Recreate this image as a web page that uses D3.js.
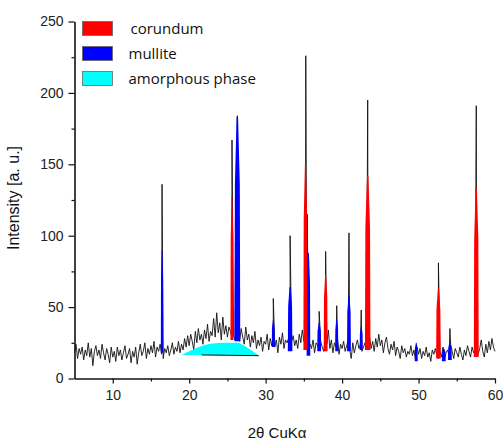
<!DOCTYPE html>
<html>
<head>
<meta charset="utf-8">
<script src="https://cdn.jsdelivr.net/npm/d3@7"></script>
<style>
  body { margin: 0; background: #fff; }
  .tick text { font-family: "Liberation Sans", Arial, sans-serif; font-size: 14px; fill: #222; }
</style>
</head>
<body>
<div id="chart"></div>
<script>
// set the dimensions and margins of the graph
var margin = {top: 21.5, right: 8, bottom: 62.5, left: 74.5},
    width = 503 - margin.left - margin.right,
    height = 441 - margin.top - margin.bottom;

// measured pattern, 2theta from 5 to 60 in 0.2 deg steps
const startAngle = 5, stepAngle = 0.2;
const background = [
  19, 24, 14, 21, 17,  22, 13, 20, 16, 25,  15, 21, 9, 19, 23,  16, 20, 14, 24, 18,  13, 21, 17, 11, 22,
  15, 19, 12, 22, 16,  20, 13, 18, 23, 14,  17, 21, 11, 19, 15,  22, 10, 18, 24, 16,  19, 25, 14, 21, 17,
  23, 18, 26, 15, 22,  19, 24, 17, 14, 21,  18, 23, 16, 20, 25,  17, 22, 19, 26, 18,  24, 20, 28, 22, 30,
  23, 31, 26, 20, 33,  25, 35, 27, 31, 24,  34, 28, 38, 26, 33,  30, 42, 29, 46, 32,  39, 27, 43, 31, 37,
  29, 36, 33, 28, 30,  27, 30, 34, 26, 35,  29, 24, 36, 27, 31,  22, 30, 25, 33, 21,  27, 23, 29, 19, 26,
  24, 31, 20, 28, 23,  30, 22, 27, 18, 29,  24, 32, 21, 27, 25,  28, 22, 26, 30, 23,  27, 21, 31, 25, 34,
  26, 29, 22, 19, 24,  21, 27, 18, 25, 23,  20, 26, 22, 19, 28,  24, 34, 21, 27, 18,  25, 22, 28, 17, 24,
  21, 26, 19, 23, 27,  20, 14, 25, 18, 23,  27, 21, 24, 19, 22,  25, 20, 23, 29, 21,  26, 19, 28, 22, 31,
  23, 27, 18, 25, 29,  21, 17, 24, 20, 26,  16, 22, 19, 14, 23,  18, 21, 15, 19, 17,  23, 16, 20, 13, 22,
  17, 21, 14, 19, 16,  22, 15, 18, 12, 20,  17, 21, 16, 14, 19,  15, 22, 13, 18, 20,  16, 24, 19, 14, 21,
  18, 15, 22, 17, 13,  20, 16, 23, 19, 15,  22, 18, 20, 24, 17,  21, 27, 19, 15, 24,  18, 26, 20, 28, 22,
  19
];

// sharp reflections on top of the background [2theta, intensity]
const spikes = [
  [16.45, 136], [25.6, 167], [26.1, 131], [26.3, 184], [31.0, 56], [33.2, 100],
  [35.25, 226], [35.45, 115], [37.0, 47], [37.85, 89], [39.3, 51], [40.9, 102],
  [42.5, 48], [43.35, 195], [52.6, 81], [54.1, 35], [57.55, 191]
];

// fitted phase peaks [2theta, top, base, half width]
const mulliteFits = [
  [16.45, 90, 18, 0.16], [26.3, 183, 26, 0.38], [31.0, 41, 22, 0.2], [33.2, 64, 19, 0.3],
  [35.6, 88, 16, 0.24], [37.0, 39, 19, 0.25], [39.3, 41, 19, 0.2], [40.9, 58, 19, 0.25],
  [42.5, 36, 20, 0.2], [49.7, 25, 12, 0.2], [53.3, 21, 12, 0.25], [54.1, 25, 13, 0.25]
];
const corundumFits = [
  [25.6, 128, 27, 0.2], [35.2, 150, 20, 0.26], [37.85, 73, 19, 0.25],
  [43.35, 142, 20, 0.36], [52.6, 63, 14, 0.3], [57.55, 133, 15, 0.32]
];

// amorphous hump outline
const amorphous = [
  [19.0, 16.5], [20.0, 19], [21.0, 21.5], [22.0, 23.5], [23.0, 24.5], [24.5, 25],
  [26.5, 25], [27.5, 22], [28.3, 19], [29.1, 16], [21.6, 16.5]
];
const amorphousBase = [[21.6, 16.5], [29.1, 16]];

const legendItems = ["corundum", "mullite", "amorphous phase"];
const legendColors = ["#ff0000", "#0000ff", "#00ffff"];

// append the svg object to the body of the page
var svg = d3.select("#chart")
  .append("svg")
    .attr("width", width + margin.left + margin.right)
    .attr("height", height + margin.top + margin.bottom)
  .append("g")
    .attr("transform", "translate(" + margin.left + "," + margin.top + ")");

const x = d3.scaleLinear().domain([5, 60]).range([0, width]);
const y = d3.scaleLinear().domain([0, 250]).range([height, 0]);

// trace = background points plus spikes, sorted by angle
var trace = background.map((v, i) => [startAngle + i * stepAngle, v]);
trace = trace.concat(spikes).sort((a, b) => a[0] - b[0]);

const line = d3.line().x(d => x(d[0])).y(d => y(d[1]));

svg.append("path")
  .datum(trace)
  .attr("fill", "none")
  .attr("stroke", "#111")
  .attr("stroke-width", 0.9)
  .attr("d", line);

// amorphous hump
svg.append("path")
  .datum(amorphous)
  .attr("fill", "#00ffff")
  .attr("d", d => line(d) + "Z");
svg.append("path")
  .datum(amorphousBase)
  .attr("fill", "none")
  .attr("stroke", "#111")
  .attr("stroke-width", 1)
  .attr("d", line);

// peak shape from centre, top, base, half width
function peakPath(d) {
  const c = d[0], top = d[1], base = d[2], w = d[3];
  const mid = base + 0.7 * (top - base);
  const pts = [[c - w, base], [c - 0.85 * w, mid], [c - 0.25 * w, top],
               [c + 0.25 * w, top], [c + 0.85 * w, mid], [c + w, base]];
  return line(pts) + "Z";
}

svg.selectAll(".mullite")
  .data(mulliteFits)
  .enter().append("path")
  .attr("class", "mullite")
  .attr("fill", "#0000ff")
  .attr("d", peakPath);

svg.selectAll(".corundum")
  .data(corundumFits)
  .enter().append("path")
  .attr("class", "corundum")
  .attr("fill", "#ff0000")
  .attr("d", peakPath);

// axes
const xAxis = svg.append("g")
  .attr("transform", `translate(0,${height})`)
  .call(d3.axisBottom(x).tickValues(d3.range(10, 61, 10)).tickSize(5).tickSizeOuter(0).tickPadding(7));
svg.append("g")
  .attr("transform", `translate(0,${height})`)
  .call(d3.axisBottom(x).tickValues(d3.range(15, 60, 10)).tickSize(3).tickSizeOuter(0).tickFormat(""))
  .select(".domain").remove();

const yAxis = svg.append("g")
  .call(d3.axisLeft(y).tickValues(d3.range(0, 251, 50)).tickSize(6).tickSizeOuter(0).tickPadding(5));
svg.append("g")
  .call(d3.axisLeft(y).tickValues(d3.range(25, 250, 50)).tickSize(3).tickSizeOuter(0).tickFormat(""))
  .select(".domain").remove();

svg.selectAll(".domain").attr("stroke", "#111").attr("stroke-width", 1.6);
svg.selectAll(".tick line").attr("stroke", "#111").attr("stroke-width", 1.2);

// legend
var legend = svg.selectAll(".legend")
  .data(legendItems)
  .enter().append("g")
  .attr("class", "legend")
  .attr("transform", (d, i) => "translate(8," + (i * 25) + ")");

legend.append("rect")
  .attr("x", 0)
  .attr("y", 0)
  .attr("width", 30)
  .attr("height", 14)
  .attr("fill", (d, i) => legendColors[i])
  .attr("stroke", "#666")
  .attr("stroke-width", 0.8);

legend.append("text")
  .attr("x", (d, i) => i === 0 ? 48 : 46)
  .attr("y", 7)
  .attr("dy", ".35em")
  .style("font-family", "'Open Sans', sans-serif")
  .style("font-size", "15px")
  .style("fill", "#111")
  .text(d => d);

// axis labels
svg.append("text")
  .attr("transform", "rotate(-90)")
  .attr("x", -height / 2 + 2)
  .attr("y", -56)
  .attr("text-anchor", "middle")
  .style("font-family", "'Liberation Sans', Arial, sans-serif")
  .style("font-size", "16px")
  .style("fill", "#111")
  .text("Intensity [a. u.]");

svg.append("text")
  .attr("x", x(31.5))
  .attr("y", height + 59)
  .attr("text-anchor", "middle")
  .style("font-family", "'Liberation Sans', Arial, sans-serif")
  .style("font-size", "15px")
  .style("fill", "#111")
  .text("2θ CuKα");
</script>
</body>
</html>
